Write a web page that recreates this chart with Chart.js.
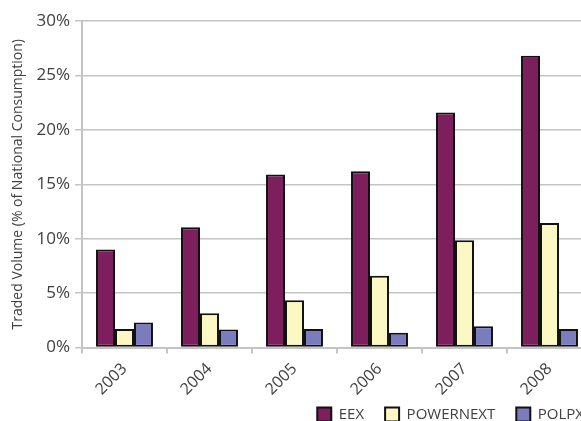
<!DOCTYPE html>
<html>
<head>
<meta charset="utf-8">
<script src="https://cdn.jsdelivr.net/npm/chart.js@4"></script>
<style>
  html, body { margin: 0; padding: 0; overflow: hidden; background: #fff; }
  #wrap { width: 605px; height: 432px; }
</style>
</head>
<body>
<div id="wrap"><canvas id="barChart"></canvas></div>
<script>
// Datos del gráfico
const years = ["2003", "2004", "2005", "2006", "2007", "2008"];
const eex = [9.0, 11.05, 15.9, 16.2, 21.6, 26.8];
const powernext = [1.7, 3.15, 4.35, 6.6, 9.85, 11.45];
const polpx = [2.3, 1.65, 1.7, 1.35, 1.95, 1.7];
const yTicks = [0, 5, 10, 15, 20, 25, 30];

const textColor = '#404040';
const gridColor = '#c4c4c4';

// las etiquetas giradas del eje X invaden la zona de la leyenda: no recortarlas
const unclipTicks = {
    id: 'unclipTicks',
    afterLayout(chart) { chart.scales.x.bottom = chart.height; }
};

const config = {
    type: 'bar',
    data: {
        labels: years,
        datasets: [
            { label: 'EEX', data: eex, backgroundColor: '#7d1f5c' },
            { label: 'POWERNEXT', data: powernext, backgroundColor: '#fbf8c4' },
            { label: 'POLPX', data: polpx, backgroundColor: '#7b7cbd' }
        ].map(d => Object.assign(d, {
            borderColor: '#111111',
            borderWidth: 2,
            borderSkipped: false,
            categoryPercentage: 0.67,
            barPercentage: 1.0
        }))
    },
    options: {
        responsive: true,
        maintainAspectRatio: false,
        animation: false,
        layout: { padding: { top: 21, right: 0, left: 8, bottom: 0 } },
        scales: {
            x: {
                grid: {
                    offset: true,
                    drawOnChartArea: false,
                    drawTicks: true,
                    tickLength: 6,
                    color: gridColor,
                    lineWidth: 2
                },
                border: { color: gridColor, width: 2 },
                ticks: {
                    color: textColor,
                    font: { family: 'Open Sans', size: 16 },
                    minRotation: 45,
                    maxRotation: 45,
                    padding: 6
                },
                afterFit: s => { s.height = 38.5; }
            },
            y: {
                min: 0,
                max: 30,
                afterBuildTicks: s => { s.ticks = yTicks.map(v => ({ value: v })); },
                grid: {
                    color: gridColor,
                    lineWidth: 1.5,
                    tickLength: 7
                },
                border: { color: gridColor, width: 2 },
                ticks: {
                    color: textColor,
                    font: { family: 'Open Sans', size: 17 },
                    padding: 5,
                    callback: v => v + '%'
                },
                title: {
                    display: true,
                    text: 'Traded Volume (% of National Consumption)',
                    color: textColor,
                    font: { family: 'Open Sans', size: 14 },
                    padding: 2
                },
                afterFit: s => { s.width = 74; }
            },
            // espacio vacío a la derecha (el gráfico original está recortado)
            yRight: {
                position: 'right',
                min: 0,
                max: 30,
                grid: { display: false },
                border: { display: false },
                ticks: { display: false },
                afterFit: s => { s.width = 13; }
            }
        },
        plugins: {
            legend: {
                position: 'bottom',
                align: 'end',
                labels: {
                    color: textColor,
                    font: { family: 'Open Sans', size: 15 },
                    boxWidth: 14,
                    boxHeight: 14,
                    padding: 21
                }
            },
            tooltip: { enabled: false }
        }
    },
    plugins: [unclipTicks]
};

const ctx = document.getElementById('barChart').getContext('2d');
const myChart = new Chart(ctx, config);
</script>
</body>
</html>
